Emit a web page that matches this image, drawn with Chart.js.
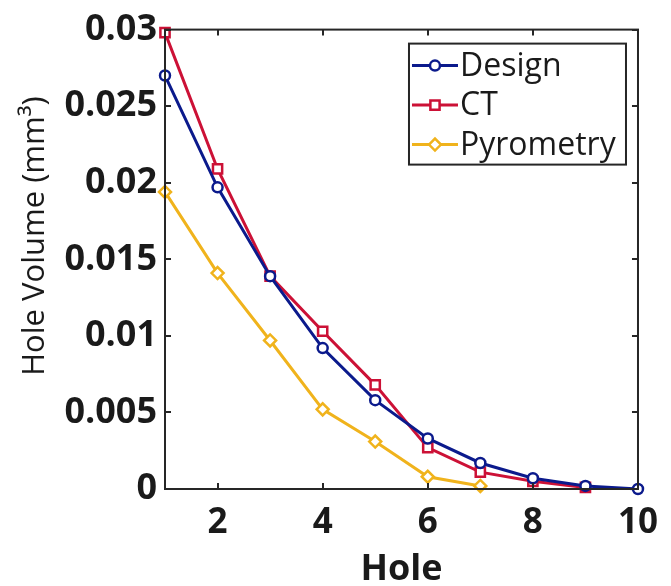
<!DOCTYPE html>
<html><head><meta charset="utf-8">
<script src="https://cdn.jsdelivr.net/npm/chart.js@4/dist/chart.umd.min.js"></script>
<style>html,body{margin:0;padding:0;background:#fff;} canvas{display:block;}</style>
</head><body>
<canvas id="c" width="671" height="586"></canvas>
<script>
const holes = [1,2,3,4,5,6,7,8,9,10];
const designVol = [0.0270,0.0197,0.0139,0.0092,0.0058,0.0033,0.0017,0.0007,0.0002,0.0000];
const ctVol = [0.0298,0.0209,0.0139,0.0103,0.0068,0.0027,0.0011,0.0005,0.0001];
const pyroVol = [0.0194,0.0141,0.0097,0.0052,0.0031,0.0008,0.0002];
const seriesNames = ['Design','CT','Pyrometry'];
const xTickValues = [2,4,6,8,10];
const yTickValues = [0,0.005,0.01,0.015,0.02,0.025,0.03];
const yTickLabels = ['0','0.005','0.01','0.015','0.02','0.025','0.03'];

const COLORS = ['#0b1a8c','#cc1136','#f0b31c'];
const STYLES = ['circle','rect','rectRot'];
const RADII = [5,6.5,6];
const AXIS = '#262626';
const FONT = "'Open Sans', 'DejaVu Sans', sans-serif";

function pts(vals){ return vals.map((v,i)=>({x:holes[i], y:v})); }

const boxPlugin = {
  id:'boxTicks',
  afterDraw(chart){
    const {ctx, chartArea:a, scales} = chart;
    ctx.save();
    ctx.strokeStyle = AXIS; ctx.lineWidth = 2;
    ctx.strokeRect(a.left, a.top, a.right-a.left, a.bottom-a.top);
    const tl = 6;
    ctx.beginPath();
    scales.x.ticks.forEach(t=>{
      const px = Math.round(scales.x.getPixelForValue(t.value));
      ctx.moveTo(px, a.bottom); ctx.lineTo(px, a.bottom-tl);
      ctx.moveTo(px, a.top); ctx.lineTo(px, a.top+tl);
    });
    scales.y.ticks.forEach(t=>{
      const py = Math.round(scales.y.getPixelForValue(t.value));
      ctx.moveTo(a.left, py); ctx.lineTo(a.left+tl, py);
      ctx.moveTo(a.right, py); ctx.lineTo(a.right-tl, py);
    });
    ctx.stroke();
    ctx.restore();
  }
};

const legendPlugin = {
  id:'boxLegend',
  afterDraw(chart){
    const {ctx, chartArea:a} = chart;
    const bx = a.right - 229, by = a.top + 14, bw = 217, bh = 121;
    ctx.save();
    ctx.fillStyle = '#fff';
    ctx.fillRect(bx, by, bw, bh);
    ctx.strokeStyle = AXIS; ctx.lineWidth = 2;
    ctx.strokeRect(bx, by, bw, bh);
    chart.data.datasets.forEach((ds,i)=>{
      const cy = by + 22 + i*39.5;
      ctx.strokeStyle = ds.borderColor; ctx.lineWidth = 3;
      ctx.beginPath(); ctx.moveTo(bx+3, cy); ctx.lineTo(bx+49, cy); ctx.stroke();
      ctx.fillStyle = '#fff';
      ctx.lineWidth = 2.5;
      Chart.helpers.drawPoint(ctx, {pointStyle: ds.pointStyle, radius: ds.pointRadius, borderWidth: 2.5, rotation:0}, bx+26, cy);
      ctx.fillStyle = '#1a1a1a';
      ctx.font = "32px " + FONT;
      ctx.textBaseline = 'middle'; ctx.textAlign = 'left';
      ctx.fillText(ds.label, bx+51, cy+1);
    });
    ctx.restore();
  }
};

const series = [designVol, ctVol, pyroVol];
const datasets = series.map((vals,i)=>({
  label: seriesNames[i],
  data: pts(vals),
  borderColor: COLORS[i],
  backgroundColor: COLORS[i],
  borderWidth: 3,
  pointStyle: STYLES[i],
  pointRadius: RADII[i],
  pointBorderWidth: 2.5,
  pointBackgroundColor: '#fff',
  pointBorderColor: COLORS[i],
  tension: 0,
  clip: false
}));

new Chart(document.getElementById('c'), {
  type:'line',
  data:{ datasets },
  options:{
    responsive:false,
    animation:false,
    layout:{ padding:{ top:23, right:29, left:0, bottom:0 } },
    plugins:{ legend:{display:false}, tooltip:{enabled:false} },
    scales:{
      x:{
        type:'linear', min:1, max:10,
        grid:{display:false, drawTicks:false},
        border:{display:false},
        afterBuildTicks(s){ s.ticks = xTickValues.map(v=>({value:v})); },
        afterFit(s){ s.height = 97; },
        ticks:{ font:{family:FONT, size:35, weight:'bold'}, color:'#1a1a1a', padding:13, maxRotation:0, autoSkip:false,
                callback:(v)=>String(v) },
        title:{ display:true, text:'Hole', font:{family:FONT, size:36, weight:'bold', lineHeight:1}, color:'#1a1a1a', padding:{top:0,bottom:-2} }
      },
      y:{
        type:'linear', min:0, max:0.03,
        grid:{display:false, drawTicks:false},
        border:{display:false},
        afterBuildTicks(s){ s.ticks = yTickValues.map(v=>({value:v})); },
        afterFit(s){ s.width = 165; },
        ticks:{ font:{family:FONT, size:36, weight:'bold'}, color:'#1a1a1a', padding:8, autoSkip:false,
                callback:(v,i)=>yTickLabels[i] },
        title:{ display:true, text:'\u2003\u2002Hole Volume (mm³)', font:{family:FONT, size:31, lineHeight:1}, color:'#1a1a1a', padding:{top:20,bottom:0} }
      }
    }
  },
  plugins:[boxPlugin, legendPlugin]
});
</script>
</body></html>
